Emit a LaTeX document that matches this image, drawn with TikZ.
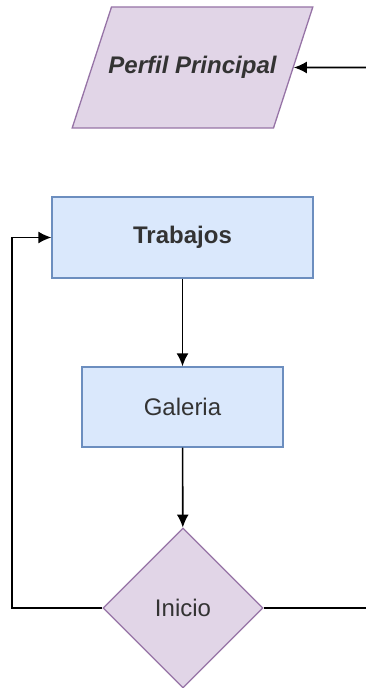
\documentclass[tikz,border=0pt]{standalone}
\usepackage{fontspec}
\setmainfont{Liberation Sans}
\usepackage{tikz}
\usetikzlibrary{arrows.meta,shapes.geometric}
\definecolor{lilafill}{HTML}{E1D5E7}
\definecolor{liladraw}{HTML}{9673A6}
\definecolor{azulfill}{HTML}{DAE8FC}
\definecolor{azuldraw}{HTML}{6C8EBF}
\tikzstyle{caja}=[rectangle,draw=azuldraw,fill=azulfill,line width=1.3pt,inner sep=0pt,text=black!80]
\tikzstyle{dato}=[trapezium,trapezium left angle=72,trapezium right angle=108,draw=liladraw,fill=lilafill,line width=1.3pt,text height=17pt,text depth=5pt,inner xsep=-3pt,inner ysep=49.5pt,text=black!80]
\tikzstyle{decision}=[diamond,draw=liladraw,fill=lilafill,line width=1.3pt,inner sep=0pt,minimum size=160pt,text=black!80]
\tikzstyle{edge} = [draw,line width=1.6pt,-]

\begin{document}
\begin{tikzpicture}[x=1pt,y=1pt,font=\fontsize{24}{28}\selectfont]
        \tikzset{edge/.style = {draw,line width=1.6pt,-{Latex[length=13pt,width=12pt]}}}
        \useasboundingbox (0,0) rectangle (366,688);
        \node[dato] (perfil) at (192.5,620.5) {\makebox[168pt]{\bfseries\itshape Perfil Principal}};
        \node[caja,minimum width=261pt,minimum height=81pt] (trab) at (182.5,450.5) {\bfseries Trabajos};
        \node[caja,minimum width=201pt,minimum height=80pt] (gal) at (182.5,281) {Galeria};
        \node[decision] (ini) at (183,80) {Inicio};
        \coordinate (inR) at (366,620.5);
        \coordinate (outR) at (366,80);
        \coordinate (loopL) at (12,80);
        \draw[edge] (inR) -- (perfil.east);
        \draw[edge] (trab) -- (gal);
        \draw[edge] (gal) -- (ini);
        \draw[edge] (ini.west) -- (loopL) |- (trab.west);
        \draw[line width=1.6pt] (ini.east) -- (outR);
      \end{tikzpicture}
\end{document}
